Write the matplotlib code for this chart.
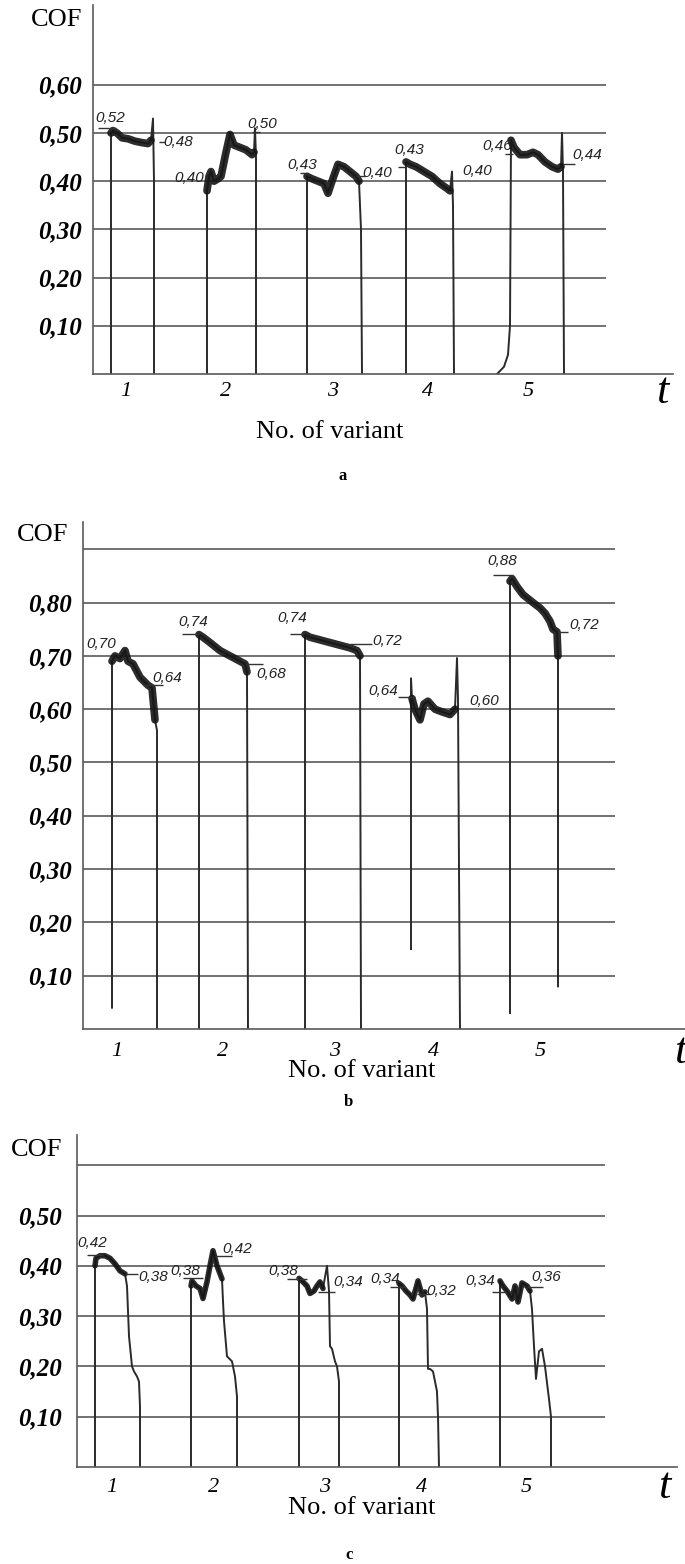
import matplotlib.pyplot as plt

W, H = 685, 1564

# ---- panel a ----
a_time = [
    [18, 18, 20, 24, 29, 35, 42, 49, 55, 58, 60, 61, 61],
    [114, 114, 116, 118, 121, 125, 128, 133, 137, 141, 147, 153, 159, 161, 162, 163, 163],
    [214, 214, 219, 225, 231, 235, 239, 245, 251, 257, 263, 266, 268, 269],
    [313, 313, 317, 323, 331, 339, 347, 354, 357, 359, 360, 361],
    [404, 411, 415, 417, 418, 421, 427, 434, 440, 445, 452, 459, 465, 468, 469, 470, 471],
]
a_cof = [
    [0, 0.50, 0.505, 0.50, 0.49, 0.488, 0.483, 0.48, 0.478, 0.485, 0.53, 0.40, 0],
    [0, 0.38, 0.41, 0.42, 0.40, 0.405, 0.41, 0.46, 0.497, 0.475, 0.47, 0.465, 0.455, 0.46, 0.51, 0.45, 0],
    [0, 0.41, 0.405, 0.40, 0.395, 0.375, 0.40, 0.435, 0.43, 0.42, 0.41, 0.40, 0.30, 0],
    [0, 0.44, 0.435, 0.43, 0.42, 0.41, 0.395, 0.385, 0.38, 0.42, 0.35, 0],
    [0, 0.015, 0.04, 0.10, 0.485, 0.47, 0.455, 0.455, 0.46, 0.455, 0.44, 0.43, 0.425, 0.43, 0.50, 0.42, 0],
]
a_labels = ['0,52', '0,48', '0,40', '0,50', '0,43', '0,40', '0,43', '0,40', '0,46', '0,44']
a_label_t = [17, 85, 96, 169, 209, 284, 316, 384, 404, 494]
a_label_cof = [0.532, 0.482, 0.407, 0.519, 0.434, 0.418, 0.465, 0.421, 0.473, 0.454]
a_lead_t0 = [5, 66, None, 159, 207, 263, 305, None, 412, 470]
a_lead_t1 = [23, 72, None, 167, 215, 272, 313, None, 420, 482]
a_lead_cof = [0.511, 0.482, None, 0.503, 0.416, 0.41, 0.43, None, 0.456, 0.436]
a_grid = [0.10, 0.20, 0.30, 0.40, 0.50, 0.60]
a_ticklabels = ['0,10', '0,20', '0,30', '0,40', '0,50', '0,60']
a_variant_t = [33, 133, 240, 335, 435]

# ---- panel b ----
b_time = [
    [29, 29, 32, 37, 42, 45, 50, 57, 65, 69, 72, 74, 74],
    [116, 116, 120, 127, 137, 147, 157, 162, 164, 165],
    [222, 222, 227, 237, 247, 257, 267, 274, 277, 278],
    [328, 328, 329, 332, 337, 341, 345, 352, 359, 367, 372, 374, 375, 376, 377],
    [427, 427, 429, 434, 440, 450, 457, 462, 467, 470, 474, 475, 475],
]
b_cof = [
    [0.04, 0.69, 0.70, 0.695, 0.71, 0.69, 0.685, 0.66, 0.645, 0.64, 0.58, 0.56, 0],
    [0, 0.74, 0.735, 0.725, 0.71, 0.70, 0.69, 0.685, 0.67, 0],
    [0, 0.74, 0.735, 0.73, 0.725, 0.72, 0.715, 0.71, 0.70, 0],
    [0.15, 0.658, 0.62, 0.60, 0.58, 0.61, 0.615, 0.60, 0.595, 0.59, 0.60, 0.696, 0.62, 0.30, 0],
    [0.03, 0.84, 0.845, 0.83, 0.815, 0.80, 0.79, 0.78, 0.765, 0.75, 0.745, 0.70, 0.08],
]
b_labels = ['0,70', '0,64', '0,74', '0,68', '0,74', '0,72', '0,64', '0,60', '0,88', '0,72']
b_label_t = [18, 84, 110, 188, 209, 304, 300, 401, 419, 501]
b_label_cof = [0.722, 0.659, 0.764, 0.666, 0.771, 0.728, 0.634, 0.615, 0.878, 0.758]
b_lead_t0 = [None, 60, 99, 164, 207, 267, 315, None, 410, 475]
b_lead_t1 = [None, 80, 116, 180, 221, 289, 332, None, 430, 485]
b_lead_cof = [None, 0.645, 0.741, 0.685, 0.741, 0.722, 0.622, None, 0.852, 0.745]
b_grid = [0.10, 0.20, 0.30, 0.40, 0.50, 0.60, 0.70, 0.80, 0.90]
b_ticklabels = ['0,10', '0,20', '0,30', '0,40', '0,50', '0,60', '0,70', '0,80', '']
b_variant_t = [34, 140, 252, 351, 457]

# ---- panel c ----
c_time = [
    [18, 18, 19, 23, 28, 33, 38, 43, 48, 50, 51, 52, 55, 57, 60, 62, 63, 63],
    [114, 114, 115, 119, 123, 126, 130, 133, 136, 140, 145, 146, 147, 150, 155, 158, 160, 160],
    [222, 222, 225, 230, 233, 237, 240, 243, 246, 250, 252, 253, 255, 258, 260, 262, 262],
    [322, 322, 325, 329, 333, 336, 341, 345, 348, 350, 351, 353, 356, 360, 361, 362],
    [423, 423, 426, 430, 435, 438, 441, 445, 450, 453, 455, 457, 459, 462, 465, 468, 472, 474, 474],
]
c_cof = [
    [0, 0.40, 0.415, 0.42, 0.42, 0.415, 0.404, 0.39, 0.384, 0.36, 0.31, 0.26, 0.20, 0.19, 0.18, 0.17, 0.12, 0],
    [0, 0.36, 0.37, 0.36, 0.355, 0.335, 0.368, 0.40, 0.43, 0.40, 0.374, 0.33, 0.29, 0.22, 0.21, 0.18, 0.14, 0],
    [0, 0.375, 0.37, 0.36, 0.345, 0.35, 0.36, 0.368, 0.355, 0.40, 0.35, 0.24, 0.235, 0.21, 0.20, 0.17, 0],
    [0, 0.365, 0.36, 0.35, 0.342, 0.334, 0.37, 0.342, 0.348, 0.314, 0.195, 0.195, 0.19, 0.15, 0.10, 0],
    [0, 0.37, 0.36, 0.35, 0.334, 0.36, 0.328, 0.366, 0.36, 0.35, 0.314, 0.24, 0.175, 0.23, 0.235, 0.20, 0.135, 0.10, 0],
]
c_labels = ['0,42', '0,38', '0,38', '0,42', '0,38', '0,34', '0,34', '0,32', '0,34', '0,36']
c_label_t = [15, 76, 108, 160, 206, 271, 308, 364, 403, 469]
c_label_cof = [0.445, 0.378, 0.39, 0.433, 0.39, 0.368, 0.374, 0.35, 0.37, 0.378]
c_lead_t0 = [10, 48, 106, 138, 210, 241, 313, 340, 415, 450]
c_lead_t1 = [26, 61, 126, 155, 230, 258, 328, 353, 430, 466]
c_lead_cof = [0.421, 0.384, 0.376, 0.42, 0.374, 0.348, 0.358, 0.344, 0.348, 0.358]
c_grid = [0.10, 0.20, 0.30, 0.40, 0.50, 0.60]
c_ticklabels = ['0,10', '0,20', '0,30', '0,40', '0,50', '']
c_variant_t = [35, 137, 248, 345, 449]

variants = ['1', '2', '3', '4', '5']

SERIF = 'Liberation Serif'
SANS = 'Liberation Sans'
INK = '#151515'
GRIDC = '#5a5a5a'

fig = plt.figure(figsize=(W / 100, H / 100), dpi=100)


def fx(x):
    return x / W


def fy(y):
    return 1 - y / H


def panel(geom, times, cofs, bands, band_lw, labels, lt, lc, l0, l1, lcof,
          grid, gridlabels, vt, grid_end, xpad, tick_gap):
    left, right, zero, top, unit = geom
    ax = fig.add_axes([fx(left), fy(zero), (right - left) / W, (zero - top) / H])
    ax.set_xlim(0, right - left)
    ax.set_ylim(0, (zero - top) / unit)
    for s in ('top', 'right'):
        ax.spines[s].set_visible(False)
    for s in ('left', 'bottom'):
        ax.spines[s].set_color(GRIDC)
        ax.spines[s].set_linewidth(1.2)
    ax.hlines(grid, 0, grid_end, color=GRIDC, lw=1.2)
    for t, c, (b0, b1) in zip(times, cofs, bands):
        ax.plot(t, c, color='#2a2a2a', lw=1.4, solid_joinstyle='round')
        ax.plot(t[b0:b1], c[b0:b1], color=INK, lw=band_lw, alpha=0.9,
                solid_capstyle='round', solid_joinstyle='round')
    for s, x, y, a, b, yy in zip(labels, lt, lc, l0, l1, lcof):
        ax.text(x, y, s, family=SANS, style='italic', fontsize=11,
                ha='center', va='center', color='#222')
        if a is not None:
            ax.hlines(yy, a, b, color='#333', lw=1)
    ax.set_yticks(grid, gridlabels, family=SERIF, weight='bold',
                  style='italic', fontsize=18)
    ax.set_xticks(vt, variants, family=SERIF, style='italic', fontsize=16)
    ax.tick_params(axis='y', length=0, pad=tick_gap)
    ax.tick_params(axis='x', length=0, pad=xpad)
    return ax


panel((93, 673, 374, 5, 482), a_time, a_cof,
      [(1, 10), (1, 14), (1, 12), (1, 9), (4, 14)], 5.5,
      a_labels, a_label_t, a_label_cof, a_lead_t0, a_lead_t1, a_lead_cof,
      a_grid, a_ticklabels, a_variant_t, 513, 6, 8)
panel((83, 685, 1029, 522, 533), b_time, b_cof,
      [(1, 11), (1, 9), (1, 9), (2, 11), (1, 12)], 5.5,
      b_labels, b_label_t, b_label_cof, b_lead_t0, b_lead_t1, b_lead_cof,
      b_grid, b_ticklabels, b_variant_t, 532, 9, 8)
panel((77, 677, 1467, 1135, 503), c_time, c_cof,
      [(1, 9), (1, 11), (1, 9), (1, 9), (1, 10)], 4,
      c_labels, c_label_t, c_label_cof, c_lead_t0, c_lead_t1, c_lead_cof,
      c_grid, c_ticklabels, c_variant_t, 528, 8, 11)

# axis titles and panel letters
for x, y in [(57, 20), (43, 535), (37, 1150)]:
    fig.text(fx(x), fy(y), 'COF', family=SERIF, fontsize=19,
             ha='center', va='center')
for x, y in [(662, 392), (680, 1052), (664, 1487)]:
    fig.text(fx(x), fy(y), 't', family=SERIF, style='italic', fontsize=32,
             ha='center', va='center')
for x, y in [(330, 432), (362, 1071), (362, 1508)]:
    fig.text(fx(x), fy(y), 'No. of variant', family=SERIF, fontsize=19,
             ha='center', va='center')
for s, x, y in [('a', 343, 476), ('b', 348, 1102), ('c', 349, 1555)]:
    fig.text(fx(x), fy(y), s, family=SERIF, weight='bold', fontsize=12,
             ha='center', va='center')

fig.savefig('out.png', dpi=100)
